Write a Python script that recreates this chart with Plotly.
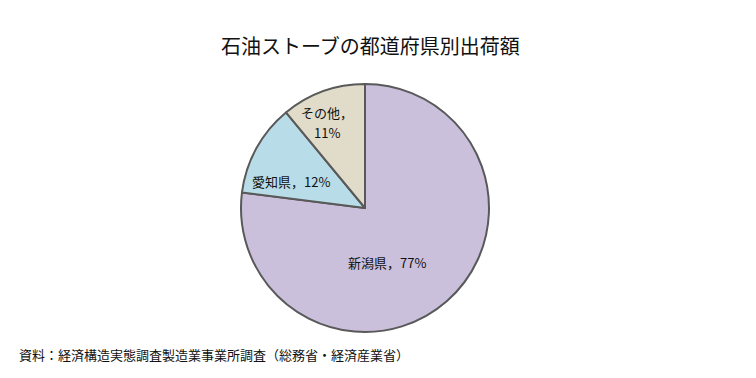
import plotly.graph_objects as go

labels = ["新潟県", "愛知県", "その他"]
values = [77, 12, 11]
# label lines for each slice
text_lines = [["新潟県，77%"], ["愛知県，12%"], ["その他，", "11%"]]
colors = ["#CBC0DC", "#B8DDE8", "#E1DCC9"]

W, H = 756, 378
cx, cy, r = 365, 208, 124
# label anchor positions (pixels from top-left) of the first line, one per slice
label_pos = [(387, 262), (291, 181), (327, 112)]
line_gap = 20

fig = go.Figure(go.Pie(
    labels=labels, values=values,
    textinfo="none", sort=False, direction="clockwise", rotation=0,
    marker=dict(colors=colors, line=dict(color="#595959", width=2)),
    hoverinfo="label+percent",
    domain=dict(x=[(cx - r) / W, (cx + r) / W], y=[(H - cy - r) / H, (H - cy + r) / H]),
))

anns = [
    dict(text="石油ストーブの都道府県別出荷額", x=370 / W, y=1 - 45 / H, xref="paper", yref="paper",
         showarrow=False, font=dict(size=20, color="#111111"), xanchor="center", yanchor="middle"),
    dict(text="資料：経済構造実態調査製造業事業所調査（総務省・経済産業省）", x=17 / W, y=1 - 354 / H,
         xref="paper", yref="paper", showarrow=False, font=dict(size=13, color="#111111"),
         xanchor="left", yanchor="middle"),
]
for lines, (px, py) in zip(text_lines, label_pos):
    for i, t in enumerate(lines):
        anns.append(dict(text=t, x=px / W, y=1 - (py + i * line_gap) / H, xref="paper", yref="paper",
                         showarrow=False, font=dict(size=13, color="#111111"),
                         xanchor="center", yanchor="middle"))

fig.update_layout(
    width=W, height=H,
    margin=dict(l=0, r=0, t=0, b=0),
    paper_bgcolor="white",
    showlegend=False,
    font=dict(family="Noto Sans CJK JP", color="#111111"),
    annotations=anns,
)

fig.write_html("out.html", config={"displayModeBar": False},
               post_script="document.body.style.margin='0';document.body.style.padding='0';")
